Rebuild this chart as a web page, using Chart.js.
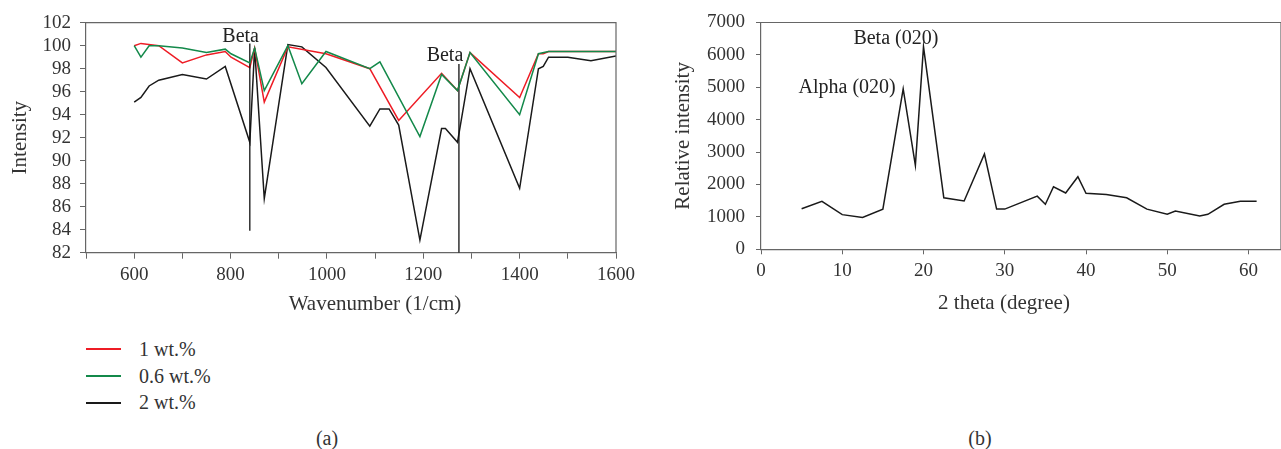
<!DOCTYPE html>
<html lang="en">
<head>
<meta charset="UTF-8">
<title>FTIR and XRD</title>
<script src="https://cdn.jsdelivr.net/npm/chart.js"></script>
<style>
  body { margin: 0; background: #fff; font-family: "Liberation Serif", serif; color: #333; }
  #wrap { position: relative; width: 1281px; height: 449px; overflow: hidden; }
  .box { position: absolute; top: 0; height: 320px; }
  .txt { position: absolute; height: 24px; line-height: 24px; white-space: nowrap; transform: translateX(-50%); }
  #legend { position: absolute; left: 86px; top: 336px; }
  .row { display: flex; align-items: center; height: 26.7px; font-size: 20px; }
  .row span.ln { display: inline-block; width: 35px; height: 2px; margin-right: 18px; }
</style>
</head>
<body>
<div id="wrap">
  <div class="box" style="left:0;width:640px"><canvas id="ftir" width="640" height="320"></canvas></div>
  <div class="box" style="left:640px;width:641px"><canvas id="xrd" width="641" height="320"></canvas></div>
  <div class="txt" style="left:375px;top:291px;font-size:21px">Wavenumber (1/cm)</div>
  <div class="txt" style="left:1004px;top:290px;font-size:21px">2 theta (degree)</div>
  <div class="txt" style="left:327px;top:426px;font-size:20px">(a)</div>
  <div class="txt" style="left:980px;top:426px;font-size:20px">(b)</div>
  <div id="legend"></div>
</div>
<script>
// (a) FTIR spectra
const names = ['1 wt.%', '0.6 wt.%', '2 wt.%'];
const colors = ['#ee1c25', '#13894a', '#1a1a1a'];

const redX = [600, 614, 651, 700, 750, 789, 801, 840, 850, 870, 919, 998, 1089, 1149, 1238, 1271, 1297, 1400, 1439, 1449, 1460, 1600];
const redY = [100.0, 100.2, 100.0, 98.5, 99.2, 99.5, 99.0, 98.1, 99.8, 95.1, 99.9, 99.3, 98.0, 93.5, 97.6, 96.1, 99.4, 95.5, 99.3, 99.3, 99.5, 99.5];

const greenX = [600, 614, 631, 651, 700, 750, 789, 801, 840, 850, 870, 919, 948, 998, 1089, 1110, 1193, 1238, 1271, 1297, 1400, 1439, 1460, 1600];
const greenY = [100.0, 99.0, 100.0, 100.0, 99.8, 99.4, 99.7, 99.3, 98.5, 99.8, 96.1, 100.0, 96.7, 99.5, 98.0, 98.6, 92.1, 97.5, 96.1, 99.4, 94.0, 99.3, 99.5, 99.5];

const blackX = [600, 614, 631, 651, 700, 750, 789, 840, 850, 870, 919, 948, 998, 1089, 1110, 1129, 1149, 1193, 1238, 1246, 1271, 1297, 1400, 1439, 1449, 1460, 1500, 1548, 1600];
const blackY = [95.1, 95.5, 96.5, 97.0, 97.5, 97.1, 98.2, 91.6, 99.8, 86.7, 100.1, 99.9, 98.1, 93.0, 94.5, 94.5, 93.1, 83.1, 92.8, 92.8, 91.6, 98.0, 87.6, 98.0, 98.2, 99.0, 99.0, 98.7, 99.1];

// beta marker lines and labels
const betaX = [840, 1274];
const betaTop = [100.2, 98.4];
const betaBottom = [83.9, 82];
const betaText = ['Beta', 'Beta'];
const betaTextX = [821, 1245];
const betaTextY = [100.35, 98.7];

const ftirTicksY = [82, 102, 2];
const ftirTicksX = [500, 1600, 100];

// (b) XRD pattern
const thetaX = [5, 7.5, 10, 12.5, 15, 17.5, 19, 20, 22.5, 25, 27.5, 29, 30, 34, 35, 36, 37.5, 39, 40, 42.5, 45, 47.5, 50, 51, 54, 55, 57, 59, 61];
const intensY = [1250, 1480, 1070, 980, 1240, 4950, 2590, 6250, 1590, 1490, 2940, 1240, 1240, 1640, 1390, 1930, 1740, 2240, 1730, 1690, 1590, 1240, 1080, 1180, 1030, 1080, 1390, 1480, 1480];
const peakText = ['Alpha (020)', 'Beta (020)'];
const peakX = [10.6, 16.6];
const peakY = [4810, 6350];

const xrdTicksY = [0, 7000, 1000];
const xrdTicksX = [0, 64, 10];

const FONT = 'Liberation Serif';
const AXIS = '#666';
const TEXT = '#333';

const pts = (xs, ys) => xs.map((x, i) => ({x: x, y: ys[i]}));

// frame: top and right border of the plot area
const framePlugin = {
    id: 'frame',
    afterDraw(chart) {
        const a = chart.chartArea, c = chart.ctx;
        c.save();
        c.strokeStyle = AXIS;
        c.lineWidth = 1.2;
        c.beginPath();
        c.moveTo(a.left, a.top);
        c.lineTo(a.right, a.top);
        c.lineTo(a.right, a.bottom);
        c.stroke();
        c.restore();
    }
};

// text labels placed at data coordinates
const labelPlugin = {
    id: 'peakLabels',
    afterDatasetsDraw(chart, args, opts) {
        if (!opts.texts) return;
        const c = chart.ctx;
        c.save();
        c.font = '20px "' + FONT + '"';
        c.fillStyle = '#222';
        c.textAlign = 'center';
        c.textBaseline = 'alphabetic';
        opts.texts.forEach((t, i) => {
            c.fillText(t, chart.scales.x.getPixelForValue(opts.xs[i]), chart.scales.y.getPixelForValue(opts.ys[i]));
        });
        c.restore();
    }
};

function axisX(range, tickLen, cb, height) {
    return {
        type: 'linear', min: range[0], max: range[1],
        grid: { drawOnChartArea: false, drawTicks: true, tickLength: tickLen, color: AXIS },
        border: { color: AXIS, width: 1.2 },
        ticks: { stepSize: range[2], autoSkip: false, maxRotation: 0, padding: 5, includeBounds: false,
                 color: TEXT, font: { family: FONT, size: 19 }, callback: cb },
        afterFit: s => { s.height = height; }
    };
}

function axisY(range, tickLen, pad, title, titlePad, width) {
    return {
        type: 'linear', min: range[0], max: range[1],
        grid: { drawOnChartArea: false, drawTicks: true, tickLength: tickLen, color: AXIS },
        border: { color: AXIS, width: 1.2 },
        ticks: { stepSize: range[2], autoSkip: false, padding: pad, color: TEXT, font: { family: FONT, size: 19 },
                 callback: v => String(v) },
        title: { display: true, text: title, color: TEXT, font: { family: FONT, size: 21 }, padding: { top: titlePad, bottom: 0 } },
        afterFit: s => { s.width = width; }
    };
}

const line = (label, data, color, order, width) => ({
    label: label, data: data, showLine: true, borderColor: color, backgroundColor: color,
    borderWidth: width || 1.5, pointRadius: 0, tension: 0, order: order
});

const ftirSets = [
    line(names[0], pts(redX, redY), colors[0], 1),
    line(names[1], pts(greenX, greenY), colors[1], 0),
    line(names[2], pts(blackX, blackY), colors[2], 2)
];
betaX.forEach((b, i) => {
    ftirSets.push(line('beta' + i, [{x: b, y: betaTop[i]}, {x: b, y: betaBottom[i]}], '#111', 0, 1.3));
});

new Chart(document.getElementById('ftir'), {
    type: 'scatter',
    data: { datasets: ftirSets },
    options: {
        responsive: false, animation: false, devicePixelRatio: 1,
        layout: { padding: { top: 22.7, right: 24, left: 0, bottom: 0 } },
        plugins: {
            legend: { display: false }, tooltip: { enabled: false },
            peakLabels: { texts: betaText, xs: betaTextX, ys: betaTextY }
        },
        scales: {
            x: axisX(ftirTicksX, 6, v => (v % 200 === 0 ? String(v) : ''), 67.3),
            y: axisY(ftirTicksY, 6, 9, 'Intensity', 7.4, 86)
        }
    },
    plugins: [framePlugin, labelPlugin]
});

new Chart(document.getElementById('xrd'), {
    type: 'scatter',
    data: { datasets: [line('XRD', pts(thetaX, intensY), '#1a1a1a', 0)] },
    options: {
        responsive: false, animation: false, devicePixelRatio: 1,
        layout: { padding: { top: 22.5, right: 0, left: 0, bottom: 0 } },
        plugins: {
            legend: { display: false }, tooltip: { enabled: false },
            peakLabels: { texts: peakText, xs: peakX, ys: peakY }
        },
        scales: {
            x: axisX(xrdTicksX, 5, v => String(v), 70.7),
            y: axisY(xrdTicksY, 5, 11, 'Relative intensity', 30.7, 121)
        }
    },
    plugins: [framePlugin, labelPlugin]
});

// legend rows
const lg = document.getElementById('legend');
names.forEach((n, i) => {
    const r = document.createElement('div');
    r.className = 'row';
    r.innerHTML = '<span class="ln" style="background:' + colors[i] + '"></span>' + n;
    lg.appendChild(r);
});
</script>
</body>
</html>
